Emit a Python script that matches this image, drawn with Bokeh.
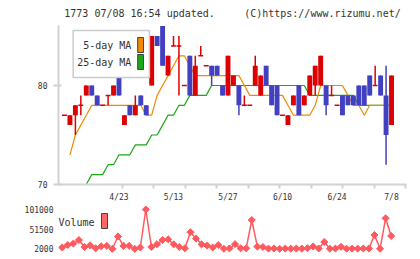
import math
from bokeh.plotting import figure
from bokeh.layouts import column
from bokeh.models import ColumnDataSource, FixedTicker, Range1d
from bokeh.core.properties import value
from bokeh.embed import file_html
from bokeh.resources import INLINE

# ---------------- data ----------------
header_left = "1773 07/08 16:54 updated."
header_right = "(C)https://www.rizumu.net/"

tick_labels = ["4/23", "5/13", "5/27", "6/10", "6/24", "7/8"]
tick_label_days = [10, 20, 30, 40, 50, 60]

opens  = [77, 76, 77, 78, 79, 80, 79, 78, 79, 79, 81, 76, 78, 77, 79, 78,
          80, 85, 86, 81, 84, 84, 80, 83, 79, 83, 82, 82, 82, 80, 79, 80,
          80, 78, 78, 80, 79, 82, 80, 80, 77, 76, 78, 80, 78, 79, 80, 80,
          80, 79, 78, 79, 79, 79, 80, 80, 81, 80, 81, 79, 76]
closes = [77, 77, 78, 78, 80, 79, 78, 78, 79, 80, 79, 77, 77, 78, 78, 77,
          85, 84, 82, 83, 84, 84, 80, 79, 82, 83, 82, 81, 81, 79, 83, 81,
          78, 78, 78, 82, 81, 80, 78, 77, 77, 77, 79, 77, 79, 81, 82, 83,
          78, 79, 78, 77, 78, 78, 78, 78, 79, 80, 79, 75, 81]
highs  = [77, 77, 78, 79, 80, 80, 79, 78, 79, 80, 81, 77, 78, 79, 79, 78,
          85, 85, 86, 83, 85, 85, 80, 83, 83, 84, 82, 82, 82, 80, 83, 81,
          80, 79, 78, 83, 81, 82, 80, 80, 77, 77, 79, 80, 79, 81, 82, 83,
          80, 80, 78, 79, 79, 79, 80, 80, 81, 82, 81, 82, 81]
lows   = [77, 76, 75, 77, 79, 79, 78, 78, 78, 79, 79, 76, 77, 77, 78, 77,
          80, 84, 82, 81, 84, 79, 80, 79, 79, 83, 82, 80, 81, 79, 79, 80,
          77, 78, 78, 80, 79, 80, 78, 77, 77, 76, 78, 77, 78, 79, 79, 80,
          77, 79, 78, 77, 78, 78, 78, 78, 79, 80, 79, 72, 76]

nan = float("nan")
ma5 = [nan, 73, 75, 76, 77, 78, 78, 78, 78, 78, 78, 78, 78, 78, 78, 77,
       77, 79, 80, 81, 82, 83, 83, 82, 81, 81, 81, 81, 81, 81, 81, 81,
       81, 80, 79, 79, 79, 79, 79, 79, 79, 78, 77, 77, 77, 77, 78, 80,
       80, 80, 80, 80, 79, 78, 78, 77, 78, 78, 78, 78, 78]
ma25 = [nan, nan, nan, nan, 70, 71, 71, 71, 72, 72, 73, 73, 73, 74, 74, 74,
        75, 75, 76, 77, 77, 78, 78, 79, 79, 79, 79, 80, 80, 80, 80, 80,
        80, 80, 80, 80, 80, 80, 80, 80, 80, 80, 80, 80, 80, 79, 79, 79,
        79, 79, 79, 79, 79, 79, 78, 78, 78, 78, 78, 78, 78]
volume = [nan, 5300, 11500, 15200, 24000, 6500, 10700, 3200, 8200, 9400, 2000,
          33000, 9400, 9400, 2000, 5300, 101000, 6500, 13600, 24000, 26000,
          13200, 6500, 3200, 43800, 28100, 13200, 10200, 5300, 11500, 2000,
          3000, 13700, 3200, 3200, 74500, 7500, 6600, 2500, 2800, 2000,
          2500, 2300, 2600, 2400, 3500, 8000, 2800, 19000, 2200, 2600,
          6900, 2300, 2500, 2400, 2600, 2700, 36800, 2000, 78800, 34300]
vol_ticks = [2000, 51500, 101000]
price_ticks = [70, 80]

days = list(range(len(opens)))

# ---------------- styles / layout ----------------
RED, BLUE = "#dd0000", "#4040c0"
ORANGE, GREEN = "#f08a00", "#18a818"
VOL = "#ff5a5f"
AXIS = "#d2d2d2"
TXT = "#333333"
MONO = "DejaVu Sans Mono"

X0_PX, DX_PX = 56.12, 5.576        # canvas x of first candle, spacing
P80_PX, PX_PER_YEN = 85.0, 9.9     # canvas y of price 80, px per yen
V2000_PX, VOL_PER_PX = 248.3, 2519.0

HDR_H = 25
MAIN_H = 179          # figure spans canvas y 25..204
VOL_H = 259 - HDR_H - MAIN_H

def jx(px):
    return (px - X0_PX) / DX_PX

def py(px):
    return 80 - (px - P80_PX) / PX_PER_YEN

def pv(px):  # canvas y -> volume
    return 2000 + (V2000_PX - px) * VOL_PER_PX

def clean(fig):
    fig.title.visible = False
    fig.xgrid.visible = False
    fig.ygrid.visible = False
    fig.outline_line_color = None
    fig.background_fill_color = "white"
    fig.border_fill_color = "white"

# ---------------- header ----------------
h = figure(width=420, height=HDR_H, output_backend="svg", toolbar_location=None,
           x_axis_location=None, y_axis_location=None,
           x_range=Range1d(0, 420), y_range=Range1d(HDR_H, 0),
           min_border_left=0, min_border_right=0, min_border_top=0, min_border_bottom=0)
clean(h)
h.text(x=[7], y=[12.5], text=[header_left], text_font=value(MONO),
       text_font_size=value("10px"), text_color=TXT, text_align="left",
       text_baseline="middle")
h.text(x=[413], y=[12.5], text=[header_right], text_font=value(MONO),
       text_font_size=value("10px"), text_color=TXT, text_align="right",
       text_baseline="middle")

# ---------------- main price chart ----------------
FR_L, FR_R, FR_T, FR_B = 50, 406, 25, 184

p = figure(width=420, height=MAIN_H, output_backend="svg", toolbar_location=None,
           x_range=Range1d(jx(FR_L), jx(FR_R)), y_range=Range1d(py(FR_B), py(FR_T)),
           min_border_left=FR_L, min_border_right=420 - FR_R,
           min_border_top=0, min_border_bottom=HDR_H + MAIN_H - FR_B)
clean(p)

minor_px = [115 + 32.22 * k for k in range(10)]
p.xaxis.ticker = FixedTicker(ticks=tick_label_days, minor_ticks=[jx(v) for v in minor_px])
p.xaxis.major_label_overrides = {d: t for d, t in zip(tick_label_days, tick_labels)}
p.xaxis.major_tick_line_color = None
p.xaxis.major_tick_out = 0
p.xaxis.major_tick_in = 0
p.xaxis.minor_tick_line_color = AXIS
p.xaxis.minor_tick_line_width = 2
p.xaxis.minor_tick_in = 0
p.xaxis.minor_tick_out = 4
p.xaxis.major_label_standoff = 4

p.yaxis.ticker = FixedTicker(ticks=price_ticks, minor_ticks=[])
p.yaxis.major_tick_in = 3
p.yaxis.major_tick_out = 5
p.yaxis.major_tick_line_color = AXIS
p.yaxis.major_tick_line_width = 2
p.yaxis.minor_tick_line_color = None
p.yaxis.major_label_standoff = 6

for ax in (p.xaxis, p.yaxis):
    ax.axis_line_color = AXIS
    ax.axis_line_width = 2
    ax.major_label_text_font = MONO
    ax.major_label_text_font_size = "8px"
    ax.major_label_text_color = TXT

# moving averages (under candles)
p.line(days, ma25, color=GREEN, line_width=1.2)
p.line(days, ma5, color=ORANGE, line_width=1.2)

colors = [RED if c >= o else BLUE for o, c in zip(opens, closes)]
src = ColumnDataSource(dict(x=days, h=highs, l=lows, color=colors))
p.segment(x0="x", y0="l", x1="x", y1="h", color="color", line_width=1.5, source=src)

body = [i for i in days if opens[i] != closes[i]]
doji = [i for i in days if opens[i] == closes[i]]
p.vbar(x=[days[i] for i in body], width=0.9,
       top=[max(opens[i], closes[i]) for i in body],
       bottom=[min(opens[i], closes[i]) for i in body],
       fill_color=[colors[i] for i in body], line_color=None)
p.segment(x0=[days[i] - 0.45 for i in doji], x1=[days[i] + 0.45 for i in doji],
          y0=[opens[i] for i in doji], y1=[opens[i] for i in doji],
          color=RED, line_width=1.5)

# legend (drawn manually: label left of swatch)
p.quad(left=[jx(65)], right=[jx(143)], top=[py(30)], bottom=[py(77)],
       fill_color="white", line_color="#cccccc", line_width=1.5)
p.quad(left=[jx(131)] * 2, right=[jx(137)] * 2, top=[py(37), py(54)], bottom=[py(52), py(69)],
       fill_color=[ORANGE, GREEN], line_color="#444444", line_width=1)
p.text(x=[jx(124.5)] * 2, y=[py(45), py(62)], text=["5-day MA", "25-day MA"],
       text_font=value(MONO), text_font_size=value("10px"), text_color=TXT,
       text_align="right", text_baseline="middle")

# ---------------- volume panel ----------------
V_L, V_T, V_B = 58, HDR_H + MAIN_H, 256
q = figure(width=420, height=VOL_H, output_backend="svg", toolbar_location=None,
           x_axis_location=None,
           x_range=Range1d(jx(V_L), jx(FR_R)), y_range=Range1d(pv(V_B), pv(V_T)),
           min_border_left=V_L, min_border_right=420 - FR_R,
           min_border_top=0, min_border_bottom=259 - V_B)
clean(q)
q.yaxis.ticker = FixedTicker(ticks=vol_ticks, minor_ticks=[])
q.yaxis.major_label_overrides = {v: str(v) for v in vol_ticks}
q.yaxis.axis_line_color = None
q.yaxis.major_tick_line_color = None
q.yaxis.major_tick_in = 0
q.yaxis.major_tick_out = 0
q.yaxis.minor_tick_line_color = None
q.yaxis.major_label_standoff = 5
q.yaxis.major_label_text_font = MONO
q.yaxis.major_label_text_font_size = "8px"
q.yaxis.major_label_text_color = TXT

q.line(days, volume, color=VOL, line_width=1.5)
q.scatter(days, volume, marker="square", angle=math.pi / 4, size=5, color=VOL)

q.quad(left=[jx(101)], right=[jx(107)], top=[pv(213)], bottom=[pv(228)],
       fill_color="#ff6666", line_color="#444444", line_width=1)
q.text(x=[jx(58)], y=[pv(222)], text=["Volume"], text_font=value(MONO),
       text_font_size=value("10px"), text_color=TXT, text_align="left",
       text_baseline="middle")

layout = column(h, p, q, spacing=0)
open("out.html", "w").write(file_html(layout, INLINE))
